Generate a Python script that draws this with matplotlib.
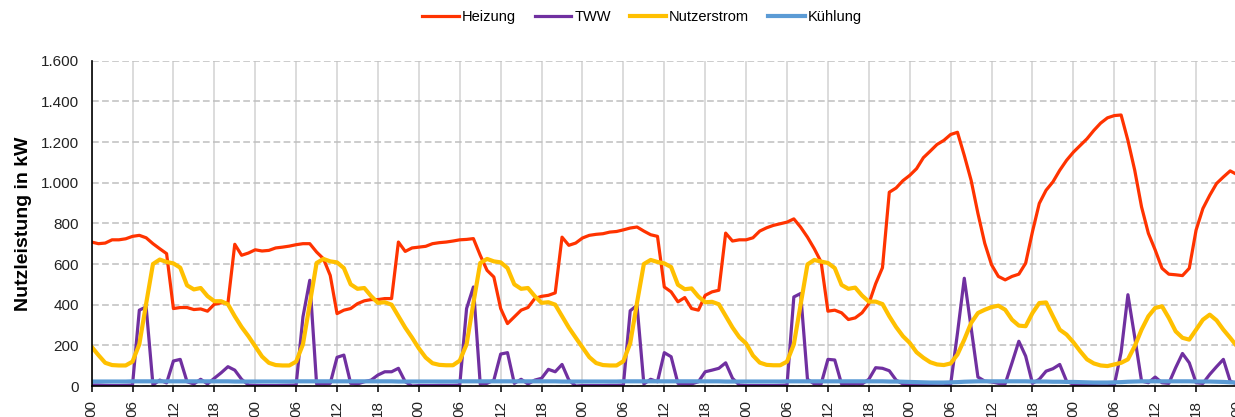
import matplotlib.pyplot as plt
from matplotlib.ticker import FuncFormatter

plt.rcParams['font.family'] = ['Liberation Sans', 'DejaVu Sans']

# Stundenwerte einer Woche (Tag 1 00 Uhr bis Tag 8 00 Uhr), Nutzleistung in kW
stunden = list(range(169))

heizung = [
    708, 700, 703, 719, 719, 724, 736, 741, 729, 700, 675, 651,
    381, 386, 386, 376, 379, 368, 402, 409, 409, 697, 643, 654,
    670, 664, 667, 679, 683, 688, 695, 700, 700, 659, 626, 544,
    356, 373, 381, 405, 419, 425, 425, 430, 430, 708, 662, 679,
    683, 687, 700, 705, 708, 713, 719, 721, 725, 643, 569, 536,
    381, 307, 340, 373, 386, 430, 441, 446, 458, 732, 692, 703,
    728, 741, 746, 749, 757, 760, 768, 777, 782, 762, 744, 736,
    487, 463, 414, 435, 381, 373, 446, 463, 471, 752, 713, 719,
    719, 729, 762, 778, 790, 798, 806, 822, 781, 732, 675, 610,
    368, 373, 360, 327, 335, 360, 405, 503, 582, 953, 974, 1010,
    1036, 1069, 1123, 1155, 1188, 1208, 1237, 1248, 1134, 1012, 849, 702,
    596, 539, 522, 539, 550, 604, 759, 898, 963, 1004, 1061, 1110,
    1150, 1183, 1216, 1257, 1293, 1319, 1330, 1333, 1208, 1061, 881, 751,
    669, 579, 550, 547, 543, 579, 767, 873, 938, 996, 1028, 1058, 1040,
]

tww = [
    5, 5, 3, 2, 2, 3, 5, 373, 389, 5, 29, 15,
    123, 131, 21, 10, 33, 10, 38, 65, 95, 78, 33, 5,
    3, 2, 2, 2, 3, 4, 5, 340, 520, 10, 10, 13,
    141, 152, 13, 10, 21, 29, 54, 70, 70, 87, 21, 0,
    2, 2, 2, 3, 3, 3, 5, 381, 487, 10, 13, 29,
    157, 164, 13, 33, 10, 29, 38, 82, 70, 106, 29, 0,
    2, 2, 2, 2, 3, 3, 5, 370, 397, 10, 33, 21,
    164, 144, 13, 10, 10, 21, 70, 78, 87, 114, 38, 5,
    2, 2, 2, 2, 2, 3, 5, 438, 455, 33, 10, 10,
    131, 128, 10, 10, 10, 10, 33, 90, 87, 75, 29, 10,
    5, 3, 2, 2, 1, 1, 8, 260, 530, 285, 44, 24,
    20, 13, 11, 114, 220, 147, 13, 33, 73, 85, 106, 24,
    8, 4, 2, 2, 1, 1, 5, 165, 449, 240, 24, 16,
    44, 16, 13, 90, 160, 114, 16, 13, 57, 95, 131, 24, 10,
]

nutzerstrom = [
    193, 152, 114, 103, 101, 101, 120, 205, 405, 600, 622, 610,
    603, 582, 495, 475, 482, 442, 417, 417, 402, 343, 290, 245,
    195, 145, 114, 103, 101, 101, 120, 205, 405, 605, 625, 613,
    608, 580, 500, 478, 482, 442, 409, 412, 400, 344, 287, 238,
    185, 140, 112, 104, 102, 102, 125, 205, 408, 605, 625, 613,
    608, 580, 500, 478, 482, 442, 409, 412, 400, 344, 287, 238,
    190, 142, 113, 103, 101, 101, 122, 210, 410, 600, 620, 610,
    603, 585, 498, 476, 480, 440, 412, 414, 402, 345, 288, 240,
    209, 150, 115, 104, 102, 102, 120, 205, 400, 598, 620, 612,
    605, 580, 497, 478, 484, 445, 415, 415, 403, 343, 290, 245,
    212, 166, 139, 117, 106, 103, 111, 155, 228, 310, 359, 375,
    388, 395, 375, 326, 297, 294, 359, 408, 411, 343, 277, 253,
    215, 171, 131, 111, 101, 98, 106, 114, 131, 196, 277, 343,
    384, 392, 335, 269, 237, 228, 277, 326, 351, 323, 277, 237, 195,
]

kuehlung = [
    22, 22, 22, 22, 22, 22, 23, 23, 23, 23, 23, 23,
    23, 23, 23, 23, 23, 23, 23, 23, 23, 22, 22, 22,
    22, 22, 22, 22, 22, 22, 23, 23, 23, 23, 23, 23,
    23, 23, 23, 23, 23, 23, 23, 23, 23, 22, 22, 22,
    22, 22, 22, 22, 22, 22, 23, 23, 23, 23, 23, 23,
    23, 23, 23, 23, 23, 23, 23, 23, 23, 22, 22, 22,
    22, 22, 22, 22, 22, 22, 23, 23, 23, 23, 23, 23,
    23, 23, 23, 23, 23, 23, 23, 23, 23, 22, 22, 22,
    22, 22, 22, 22, 22, 22, 23, 23, 23, 23, 23, 23,
    23, 23, 23, 23, 23, 23, 23, 23, 23, 22, 22, 21,
    20, 19, 18, 17, 17, 17, 18, 19, 21, 22, 23, 23,
    23, 23, 23, 23, 23, 23, 22, 22, 22, 21, 21, 20,
    20, 19, 18, 17, 17, 17, 18, 19, 21, 22, 23, 23,
    23, 23, 23, 23, 23, 23, 22, 22, 22, 21, 20, 18, 17,
]

fig = plt.figure(figsize=(12.35, 4.17), dpi=100)
# Achse läuft rechts knapp über den Bildrand hinaus
ax = fig.add_axes([91.6 / 1235, 31 / 417, (1237 - 91.6) / 1235, 325.3 / 417])

ax.plot(stunden, heizung, color='#FF3300', lw=2.3, label='Heizung', solid_joinstyle='round')
ax.plot(stunden, tww, color='#7030A0', lw=2.3, label='TWW', solid_joinstyle='round')
ax.plot(stunden, nutzerstrom, color='#FFC000', lw=3.0, label='Nutzerstrom', solid_joinstyle='round')
ax.plot(stunden, kuehlung, color='#5B9BD5', lw=3.0, label='Kühlung', solid_joinstyle='round')

ax.set_xlim(0, 168)
ax.set_ylim(0, 1600)

xticks = list(range(0, 169, 6))
ax.set_xticks(xticks)
ax.set_xticklabels([f"{h % 24:02d}" for h in xticks], rotation=90, fontsize=11)
ax.set_yticks(range(0, 1601, 200))
ax.yaxis.set_major_formatter(FuncFormatter(lambda v, p: f"{v:,.0f}".replace(",", ".")))
ax.tick_params(axis='y', labelsize=11, length=0, pad=9, colors='#222222')
ax.tick_params(axis='x', length=4, width=1.1, pad=6, colors='black', labelcolor='#222222')

# Gitter: senkrecht durchgezogen, waagerecht gestrichelt
ax.set_axisbelow(True)
ax.xaxis.grid(True, color='#D9D9D9', lw=1.3, ls='-')
ax.yaxis.grid(True, color='#BFBFBF', lw=1.1, ls=(0, (4.4, 2.2)))

for s in ['top', 'right']:
    ax.spines[s].set_visible(False)
ax.spines['left'].set_linewidth(1.2)
ax.spines['bottom'].set_linewidth(1.2)

ax.set_ylabel('Nutzleistung in kW', fontsize=14, fontweight='bold')
ax.yaxis.set_label_coords(-0.052, 0.5)

fig.legend(loc='center', bbox_to_anchor=(642 / 1235, 1 - 17 / 417), ncol=4, frameon=False,
           fontsize=10.5, handlelength=2.5, handletextpad=0.2, columnspacing=1.3)

plt.savefig('out.png', dpi=100)
plt.close()
